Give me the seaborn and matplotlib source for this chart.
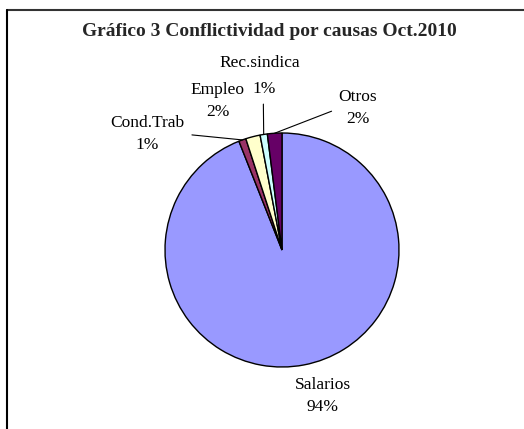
"""
Pie chart: Conflictividad por causas, Oct.2010
"""
import matplotlib
matplotlib.use("Agg")
import matplotlib.pyplot as plt
from matplotlib.lines import Line2D
import numpy as np
import seaborn as sns

# ─── data ─────────────────────────────────────────────────────────────────────
causes  = ["Salarios", "Cond.Trab", "Empleo", "Rec.sindica", "Otros"]
shares  = [94, 1, 2, 1, 2]
colours = ["#9999FF", "#993366", "#FFFFCC", "#CCFFFF", "#660066"]
title   = "Gráfico 3 Conflictividad por causas Oct.2010"

# label centre (data units, pie radius = 1), leader-line anchor, and whether the
# name / percentage lines are set apart (Rec.sindica's % sits beside "Empleo")
label_pos   = [(0.35, -1.25), (-1.15, 0.99), (-0.55, 1.27), (-0.15, 1.49), (0.65, 1.21)]
label_line  = [None, (1, 0.5), None, (0.45, 0.0), (0, 0.5)]
label_split = [False, False, False, True, False]

# ─── style ────────────────────────────────────────────────────────────────────
sns.set_theme(style="white")
plt.rcParams["font.family"] = ["Liberation Serif", "DejaVu Serif"]

W, H = 524, 429
CX, CY, R = 282, 250, 117          # pie centre / radius in pixels
FS = 12.5
DY = 13 / R                        # half the gap between label lines

fig = plt.figure(figsize=(W / 100, H / 100), dpi=100)
ax = fig.add_axes([0, 0, 1, 1])

wedges, _ = ax.pie(
    shares, colors=colours, startangle=90, counterclock=False,
    wedgeprops=dict(edgecolor="black", linewidth=1.0),
)
ax.set_xlim(-CX / R, (W - CX) / R)
ax.set_ylim(-(H - CY) / R, CY / R)
ax.set_aspect("auto")
ax.axis("off")

line_kw = dict(arrowstyle="-", color="black", lw=0.8, shrinkA=3, shrinkB=0)
txt_kw = dict(ha="center", va="center", fontsize=FS, linespacing=1.5, color="black")

for w, name, v, (tx, ty), rel, split in zip(wedges, causes, shares, label_pos,
                                            label_line, label_split):
    pct = f"{v:.0f}%"
    mid = np.deg2rad((w.theta1 + w.theta2) / 2)
    tip = (np.cos(mid), np.sin(mid))
    if split:
        ax.text(tx - 0.04, ty + DY, name, **txt_kw)
        ax.annotate(pct, xy=tip, xytext=(tx, ty - DY),
                    arrowprops=dict(relpos=rel, **line_kw), **txt_kw)
    elif rel is None:
        ax.text(tx, ty, f"{name}\n{pct}", **txt_kw)
    else:
        ax.annotate(f"{name}\n{pct}", xy=tip, xytext=(tx, ty),
                    arrowprops=dict(relpos=rel, **line_kw), **txt_kw)

fig.text(269 / W, 1 - 32 / H, title, ha="center", va="center",
         fontsize=14, fontweight="bold")

# chart frame (only top and left edges fall inside the crop)
fig.add_artist(Line2D([7 / W, 1], [1 - 10 / H, 1 - 10 / H], color="#333333", lw=1.5))
fig.add_artist(Line2D([7 / W, 7 / W], [0, 1 - 10 / H], color="black", lw=1.5))

fig.savefig("out.png", dpi=100, facecolor="white")
plt.close(fig)
